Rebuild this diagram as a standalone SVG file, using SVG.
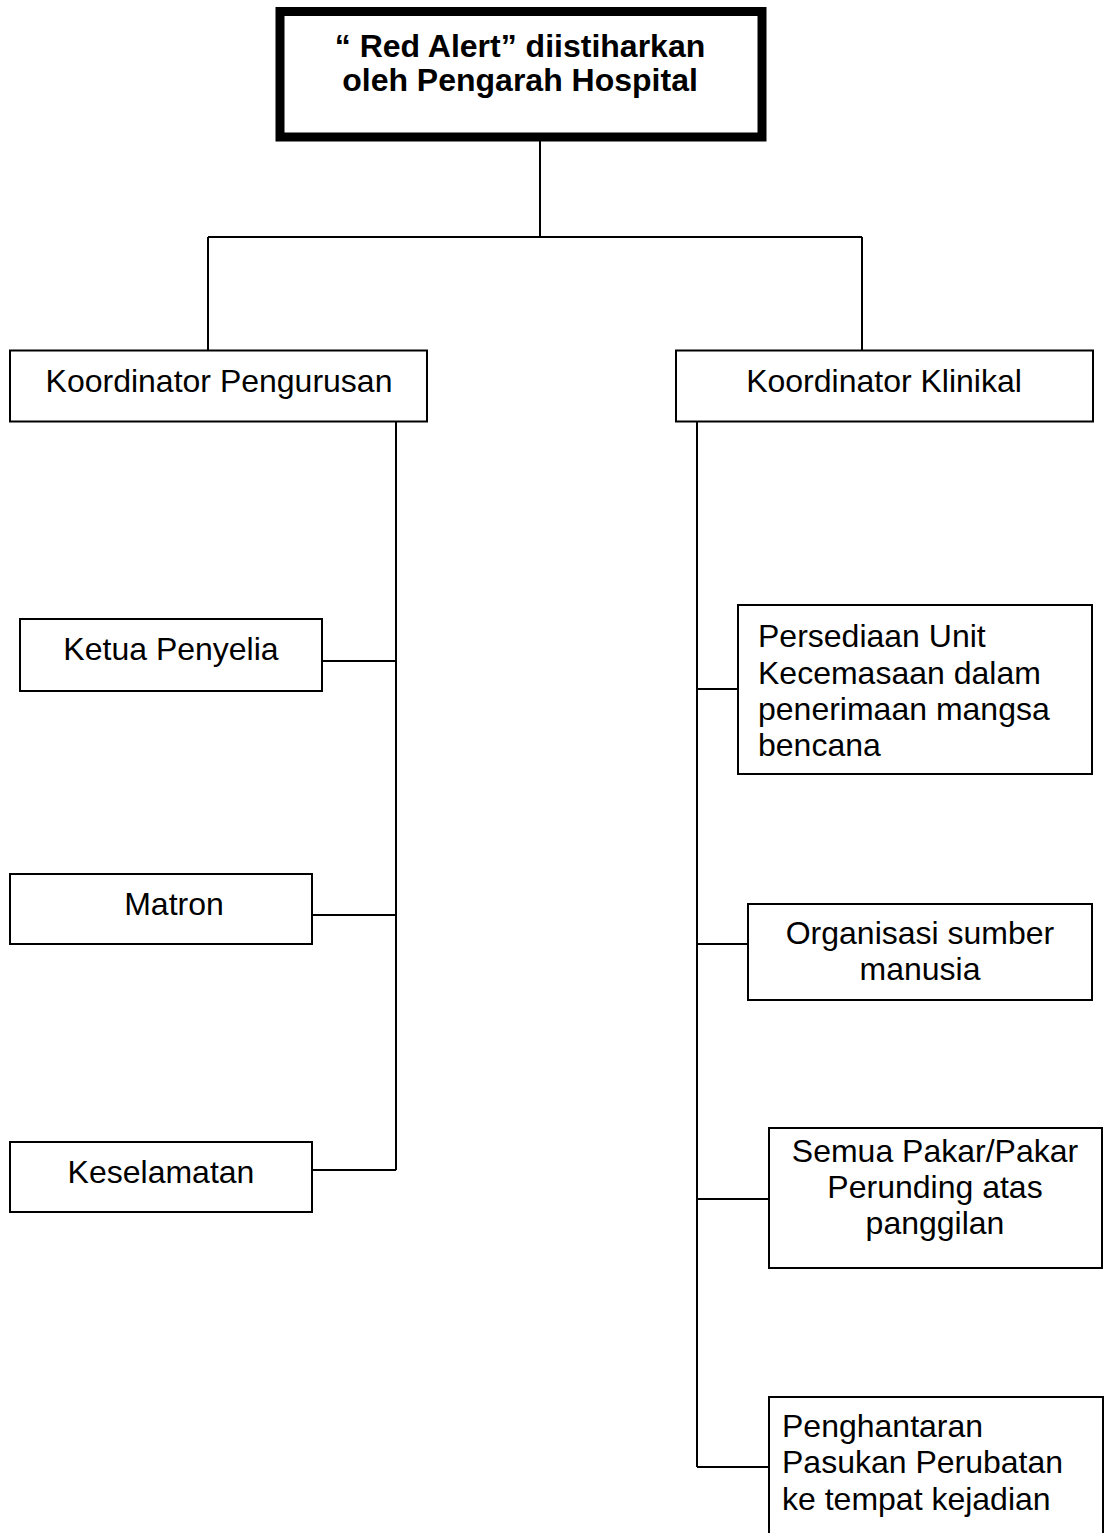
<svg xmlns="http://www.w3.org/2000/svg" width="1105" height="1533" viewBox="0 0 1105 1533">
  <style>
    .box { fill: #ffffff; stroke: #000000; stroke-width: 2; }
    .head { fill: #ffffff; stroke: #000000; stroke-width: 9; }
    .link { fill: none; stroke: #000000; stroke-width: 2; }
    text { font-family: "Liberation Sans", Arial, sans-serif; font-size: 32px; fill: #000000; }
    .bold { font-weight: bold; }
    .mid { text-anchor: middle; }
  </style>

  <!-- connectors -->
  <g id="connectors">
    <path class="link" d="M540,141 V237 M208,237 H862 M208,237 V350 M862,237 V350"/>
    <path class="link" d="M396,422 V1170 M322,661 H396 M312,915 H396 M312,1170 H396"/>
    <path class="link" d="M697,422 V1467 M697,689 H738 M697,944 H748 M697,1199 H769 M697,1467 H769"/>
  </g>

  <!-- top: alert declaration -->
  <g id="node-red-alert">
    <rect class="head" x="280" y="11.5" width="482" height="125.5"/>
    <text class="bold mid" x="520" y="57">“ Red Alert” diistiharkan</text>
    <text class="bold mid" x="520" y="91">oleh Pengarah Hospital</text>
  </g>

  <!-- coordinators -->
  <g id="node-koordinator-pengurusan">
    <rect class="box" x="10" y="350.5" width="417" height="71"/>
    <text class="mid" x="219" y="392">Koordinator Pengurusan</text>
  </g>
  <g id="node-koordinator-klinikal">
    <rect class="box" x="676" y="350.5" width="417" height="71"/>
    <text class="mid" x="884" y="392">Koordinator Klinikal</text>
  </g>

  <!-- management branch -->
  <g id="node-ketua-penyelia">
    <rect class="box" x="20" y="619" width="302" height="72"/>
    <text class="mid" x="171" y="660">Ketua Penyelia</text>
  </g>
  <g id="node-matron">
    <rect class="box" x="10" y="874" width="302" height="70"/>
    <text class="mid" x="174" y="915">Matron</text>
  </g>
  <g id="node-keselamatan">
    <rect class="box" x="10" y="1142" width="302" height="70"/>
    <text class="mid" x="161" y="1183">Keselamatan</text>
  </g>

  <!-- clinical branch -->
  <g id="node-persediaan-unit">
    <rect class="box" x="738" y="605" width="354" height="169"/>
    <text x="758" y="647">Persediaan Unit</text>
    <text x="758" y="684">Kecemasaan dalam</text>
    <text x="758" y="720">penerimaan mangsa</text>
    <text x="758" y="756">bencana</text>
  </g>
  <g id="node-organisasi">
    <rect class="box" x="748" y="904" width="344" height="96"/>
    <text class="mid" x="920" y="944">Organisasi sumber</text>
    <text class="mid" x="920" y="980">manusia</text>
  </g>
  <g id="node-semua-pakar">
    <rect class="box" x="769" y="1128" width="333" height="140"/>
    <text class="mid" x="935" y="1162">Semua Pakar/Pakar</text>
    <text class="mid" x="935" y="1198">Perunding atas</text>
    <text class="mid" x="935" y="1234">panggilan</text>
  </g>
  <g id="node-penghantaran">
    <rect class="box" x="769" y="1397" width="334" height="160"/>
    <text x="782" y="1437">Penghantaran</text>
    <text x="782" y="1473">Pasukan Perubatan</text>
    <text x="782" y="1510">ke tempat kejadian</text>
  </g>
</svg>
